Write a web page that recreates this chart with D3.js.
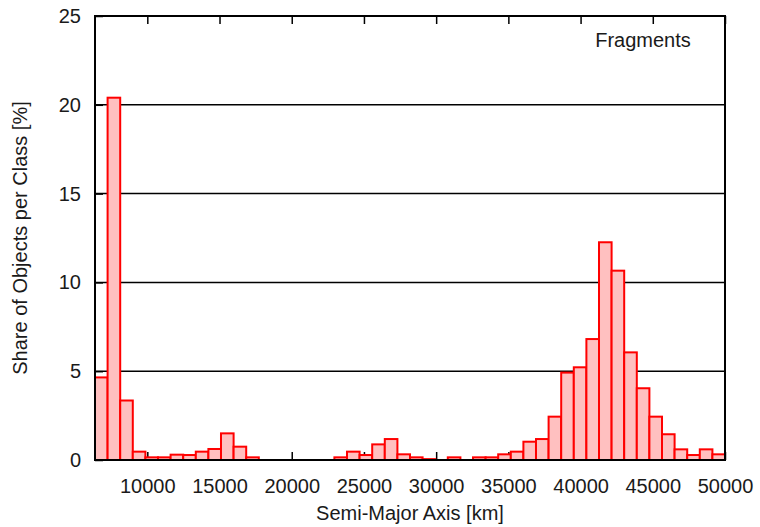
<!DOCTYPE html>
<html>
<head>
<meta charset="utf-8">
<script src="https://cdn.jsdelivr.net/npm/d3@7"></script>
<style>
  body { margin: 0; background: #fff; }
  text { font-family: "Liberation Sans", Arial, sans-serif; fill: #1a1a1a; }
</style>
</head>
<body>
<svg></svg>
<script>
// bin edges (km), 50 bins from Earth radius up to 50000 km
const binEdges = [6378, 7250, 8123, 8995, 9868, 10740, 11613, 12485, 13358, 14230,
    15102, 15975, 16847, 17720, 18592, 19465, 20337, 21209, 22082, 22954,
    23827, 24699, 25572, 26444, 27317, 28189, 29061, 29934, 30806, 31679,
    32551, 33424, 34296, 35169, 36041, 36913, 37786, 38658, 39531, 40403,
    41276, 42148, 43020, 43893, 44765, 45638, 46510, 47383, 48255, 49128, 50000];

// share of objects per class [%]
const shares = [4.65, 20.4, 3.35, 0.47, 0.15, 0.15, 0.3, 0.28, 0.47, 0.62,
    1.5, 0.75, 0.15, 0, 0, 0, 0, 0, 0, 0.15,
    0.47, 0.28, 0.88, 1.18, 0.32, 0.15, 0.05, 0, 0.15, 0,
    0.15, 0.15, 0.32, 0.47, 1.03, 1.18, 2.44, 4.92, 5.22, 6.81,
    12.26, 10.66, 6.06, 4.04, 2.44, 1.45, 0.6, 0.28, 0.6, 0.32];

const xTicks = [10000, 15000, 20000, 25000, 30000, 35000, 40000, 45000, 50000];
const yTicks = [0, 5, 10, 15, 20, 25];
const gridValues = [5, 10, 15, 20];

const width = 760, height = 527;
const margins = { top: 16, right: 35, bottom: 67, left: 95 };
const graphWidth = width - margins.left - margins.right;
const graphHeight = height - margins.top - margins.bottom;

const svg = d3.select("svg")
    .attr("width", width)
    .attr("height", height);

const graph = svg.append("g")
    .attr("transform", `translate(${margins.left}, ${margins.top})`);

const xScale = d3.scaleLinear()
    .domain([binEdges[0], binEdges[binEdges.length - 1]])
    .range([0, graphWidth]);

const yScale = d3.scaleLinear()
    .domain([0, 25])
    .range([graphHeight, 0]);

// gridlines
graph.selectAll(".grid")
    .data(gridValues)
    .enter()
    .append("line")
    .attr("x1", 0)
    .attr("x2", graphWidth)
    .attr("y1", d => yScale(d))
    .attr("y2", d => yScale(d))
    .attr("stroke", "#000")
    .attr("stroke-width", 1.5);

// inward ticks, bottom and top
const xAxisBottom = graph.append("g")
    .attr("transform", `translate(0, ${graphHeight})`)
    .call(d3.axisBottom(xScale).tickValues(xTicks).tickSize(-8).tickPadding(19).tickFormat(d3.format("d")));
const xAxisTop = graph.append("g")
    .call(d3.axisTop(xScale).tickValues(xTicks).tickSize(-8).tickFormat(""));
const yAxisLeft = graph.append("g")
    .call(d3.axisLeft(yScale).tickValues(yTicks).tickSize(-8).tickPadding(14));

[xAxisBottom, xAxisTop, yAxisLeft].forEach(g => {
    g.select(".domain").remove();
    g.selectAll("line").attr("stroke", "#000").attr("stroke-width", 1.5);
    g.selectAll("text")
        .attr("font-family", "Liberation Sans, Arial, sans-serif")
        .attr("font-size", 20)
        .attr("fill", "#1a1a1a");
});

// histogram bars
const bins = shares.map((v, i) => ({ x0: binEdges[i], x1: binEdges[i + 1], value: v }))
    .filter(d => d.value > 0);

graph.selectAll("rect.bar")
    .data(bins)
    .enter()
    .append("rect")
    .attr("class", "bar")
    .attr("x", d => xScale(d.x0))
    .attr("width", d => xScale(d.x1) - xScale(d.x0))
    .attr("y", d => yScale(d.value))
    .attr("height", d => graphHeight - yScale(d.value))
    .attr("fill", "#ffc0c0")
    .attr("stroke", "#ff0000")
    .attr("stroke-width", 2);

// frame
graph.append("rect")
    .attr("width", graphWidth)
    .attr("height", graphHeight)
    .attr("fill", "none")
    .attr("stroke", "#000")
    .attr("stroke-width", 2);

// labels
svg.append("text")
    .attr("x", margins.left + graphWidth / 2)
    .attr("y", 520)
    .attr("text-anchor", "middle")
    .attr("font-size", 20)
    .text("Semi-Major Axis [km]");

svg.append("text")
    .attr("transform", `translate(27, ${margins.top + graphHeight / 2}) rotate(-90)`)
    .attr("text-anchor", "middle")
    .attr("font-size", 20)
    .text("Share of Objects per Class [%]");

svg.append("text")
    .attr("x", 643)
    .attr("y", 47)
    .attr("text-anchor", "middle")
    .attr("font-size", 20)
    .text("Fragments");
</script>
</body>
</html>
